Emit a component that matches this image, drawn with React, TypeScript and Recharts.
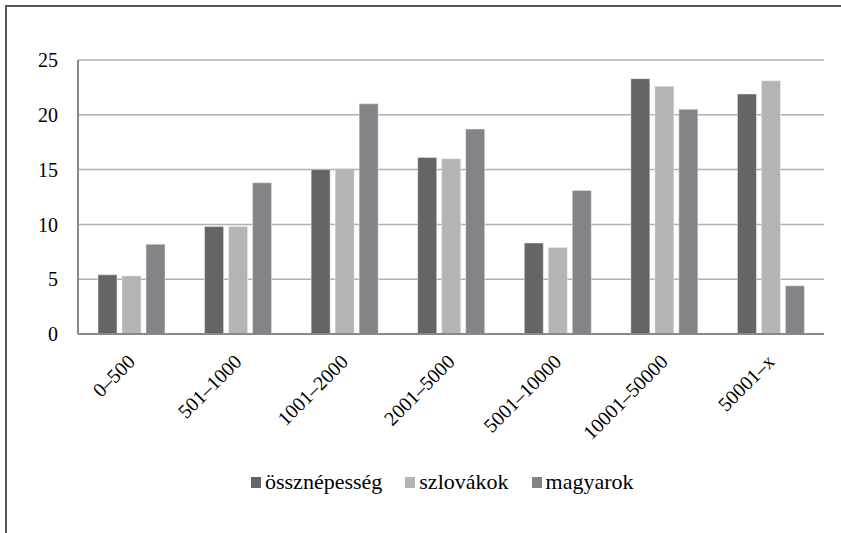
import { BarChart, Bar, XAxis, YAxis, CartesianGrid, Legend } from 'recharts'

// településnagyság szerinti megoszlás (%)
const CATEGORIES = ['0–500', '501–1000', '1001–2000', '2001–5000', '5001–10000', '10001–50000', '50001–x']
const OSSZ = [5.4, 9.8, 15.0, 16.1, 8.3, 23.3, 21.9]
const SZLOVAK = [5.3, 9.8, 15.1, 16.0, 7.9, 22.6, 23.1]
const MAGYAR = [8.2, 13.8, 21.0, 18.7, 13.1, 20.5, 4.4]
const SERIES = ['össznépesség', 'szlovákok', 'magyarok']
const COLORS = ['#646567', '#b3b4b6', '#838487']
const Y_TICKS = [0, 5, 10, 15, 20, 25]

const data = CATEGORIES.map((c, i) => ({
  cat: c,
  [SERIES[0]]: OSSZ[i],
  [SERIES[1]]: SZLOVAK[i],
  [SERIES[2]]: MAGYAR[i],
}))

const FONT = '"Liberation Serif", "Times New Roman", serif'

// rotated category label, anchored at its right end
function CatTick({ x, y, payload }: any) {
  const ax = x + 5
  const ay = y + 21
  return (
    <text x={ax} y={ay} transform={`rotate(-45, ${ax}, ${ay})`} textAnchor="end"
      fontSize={20} fill="#000" fontFamily={FONT}>
      {payload.value}
    </text>
  )
}

function LegendBox() {
  return (
    <div style={{ display: 'flex', alignItems: 'center', height: 26, paddingLeft: 251, fontFamily: FONT, fontSize: 22, color: '#000' }}>
      {SERIES.map((s, i) => (
        <div key={s} style={{ display: 'flex', alignItems: 'center', marginRight: 23, lineHeight: '26px' }}>
          <span style={{ display: 'inline-block', width: 10, height: 11, background: COLORS[i], marginRight: 4 }} />
          <span>{s}</span>
        </div>
      ))}
    </div>
  )
}

export default function App() {
  return (
    <div style={{ position: 'absolute', left: 0, top: 0, width: 841, height: 533, background: '#fff' }}>
      <div style={{
        position: 'absolute', left: 5, top: 5, width: 836, height: 528, boxSizing: 'border-box',
        borderTop: '2px solid #555', borderLeft: '2px solid #555',
      }} />
      <BarChart width={841} height={533} data={data}
        margin={{ top: 60, right: 17, left: 0, bottom: 38 }}
        barCategoryGap={20} barGap={5}>
        <CartesianGrid vertical={false} stroke="#b0b0b0" strokeWidth={1.5} />
        <XAxis dataKey="cat" interval={0} height={135} axisLine={{ stroke: '#888', strokeWidth: 2 }} tickLine={false}
          tick={<CatTick />} />
        <YAxis domain={[0, 25]} ticks={Y_TICKS} width={78} axisLine={{ stroke: '#888', strokeWidth: 2 }} tickLine={false}
          tickMargin={14} tick={{ fontSize: 20, fill: '#000', fontFamily: FONT }} />
        <Legend verticalAlign="bottom" content={() => <LegendBox />} />
        {SERIES.map((s, i) => (
          <Bar key={s} dataKey={s} fill={COLORS[i]} stroke="#eee" strokeWidth={0.5} isAnimationActive={false} />
        ))}
      </BarChart>
    </div>
  )
}
